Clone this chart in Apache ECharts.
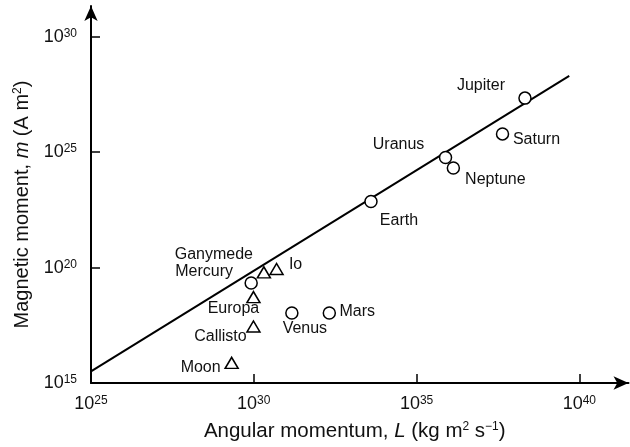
<!DOCTYPE html>
<html>
<head>
<meta charset="utf-8">
<script src="https://cdn.jsdelivr.net/npm/echarts@6/dist/echarts.min.js"></script>
<style>html,body{margin:0;padding:0;background:#fff}#c{width:630px;height:447px}</style>
</head>
<body>
<div id="c"></div>
<script>
// Values are log10 of the quantities (log-log chart)
const xTickExps = [25, 30, 35, 40];
const yTickExps = [15, 20, 25, 30];
const planetNames = ['Jupiter', 'Saturn', 'Uranus', 'Neptune', 'Earth', 'Mercury', 'Venus', 'Mars'];
const planetLogL = [38.33, 37.64, 35.89, 36.13, 33.60, 29.92, 31.17, 32.32];
const planetLogM = [27.34, 25.79, 24.77, 24.31, 22.86, 19.33, 18.03, 18.03];
const moonNames = ['Ganymede', 'Io', 'Europa', 'Callisto', 'Moon'];
const moonLogL = [30.31, 30.70, 29.99, 29.99, 29.32];
const moonLogM = [19.79, 19.94, 18.72, 17.45, 15.87];
const fitLogL = [25.00, 39.69];
const fitLogM = [15.50, 28.30];

// label placement (style only)
const labelOffsets = {
  Jupiter: [-44, -13], Saturn: [34, 6], Uranus: [-47, -13], Neptune: [42, 12],
  Earth: [28, 19], Mercury: [-47, -11], Venus: [13, 16], Mars: [28, -1],
  Ganymede: [-50, -18], Io: [19, -4], Europa: [-20, 11], Callisto: [-33, 10], Moon: [-31, 5]
};

const FONT = 'Liberation Sans, Arial, Helvetica, sans-serif';
const build = (names, xs, ys) => names.map((n, i) => ({
  name: n, value: [xs[i], ys[i]],
  label: { offset: labelOffsets[n] }
}));
const supFmt = v => '{b|10}{s|' + v + '}';
const tickRich = {
  b: { fontSize: 18, fontFamily: FONT, color: '#111' },
  s: { fontSize: 12, fontFamily: FONT, color: '#111', verticalAlign: 'top' }
};
const nameRich = (fs) => ({
  i: { fontStyle: 'italic', fontSize: fs, fontFamily: FONT, color: '#111' },
  s: { fontSize: 12, fontFamily: FONT, color: '#111', verticalAlign: 'top' }
});
const pointLabel = {
  show: true, position: 'inside', formatter: '{b}', align: 'center', verticalAlign: 'middle',
  fontSize: 16, fontFamily: FONT, color: '#111'
};

const chart = echarts.init(document.getElementById('c'), null, { renderer: 'canvas' });
chart.setOption({
  animation: false,
  backgroundColor: '#fff',
  grid: { left: 91, right: 1.5, top: 6, bottom: 63.7 },
  xAxis: {
    type: 'value', min: 25, max: 41.51, interval: 5,
    splitLine: { show: false },
    axisLine: { lineStyle: { color: '#000', width: 2 }, symbol: ['none', 'arrow'], symbolSize: [10, 15] },
    axisTick: { inside: true, length: 9, lineStyle: { color: '#000', width: 1.5 }, customValues: xTickExps },
    axisLabel: { margin: 12, formatter: supFmt, rich: tickRich, customValues: xTickExps },
    name: 'Angular momentum, {i|L} (kg m{s|2} s{s|\u22121})',
    nameLocation: 'middle', nameGap: 38,
    nameTextStyle: { fontSize: 20.5, fontFamily: FONT, color: '#111', rich: nameRich(20.5), padding: [0, 10, 0, 0] }
  },
  yAxis: {
    type: 'value', min: 15, max: 31.33, interval: 5,
    splitLine: { show: false },
    axisLine: { lineStyle: { color: '#000', width: 2 }, symbol: ['none', 'arrow'], symbolSize: [10, 15] },
    axisTick: { inside: true, length: 9, lineStyle: { color: '#000', width: 1.5 }, customValues: [20, 25, 30] },
    axisLabel: { margin: 14, formatter: supFmt, rich: tickRich, customValues: yTickExps },
    name: 'Magnetic moment, {i|m} (A m{s|2})',
    nameLocation: 'middle', nameGap: 59, nameRotate: 90,
    nameTextStyle: { fontSize: 20, fontFamily: FONT, color: '#111', rich: nameRich(20), padding: [0, 20, 0, 0] }
  },
  series: [
    {
      type: 'line', data: fitLogL.map((x, i) => [x, fitLogM[i]]),
      showSymbol: false, symbol: 'none', lineStyle: { color: '#000', width: 2 }, z: 1, silent: true
    },
    {
      type: 'scatter', data: build(planetNames, planetLogL, planetLogM),
      symbol: 'circle', symbolSize: 12,
      itemStyle: { color: '#fff', borderColor: '#000', borderWidth: 1.5, opacity: 1 },
      label: pointLabel, z: 3
    },
    {
      type: 'scatter', data: build(moonNames, moonLogL, moonLogM),
      symbol: 'triangle', symbolSize: [13, 11],
      itemStyle: { color: '#fff', borderColor: '#000', borderWidth: 1.5, opacity: 1 },
      label: pointLabel, z: 3
    }
  ]
});
</script>
</body>
</html>
